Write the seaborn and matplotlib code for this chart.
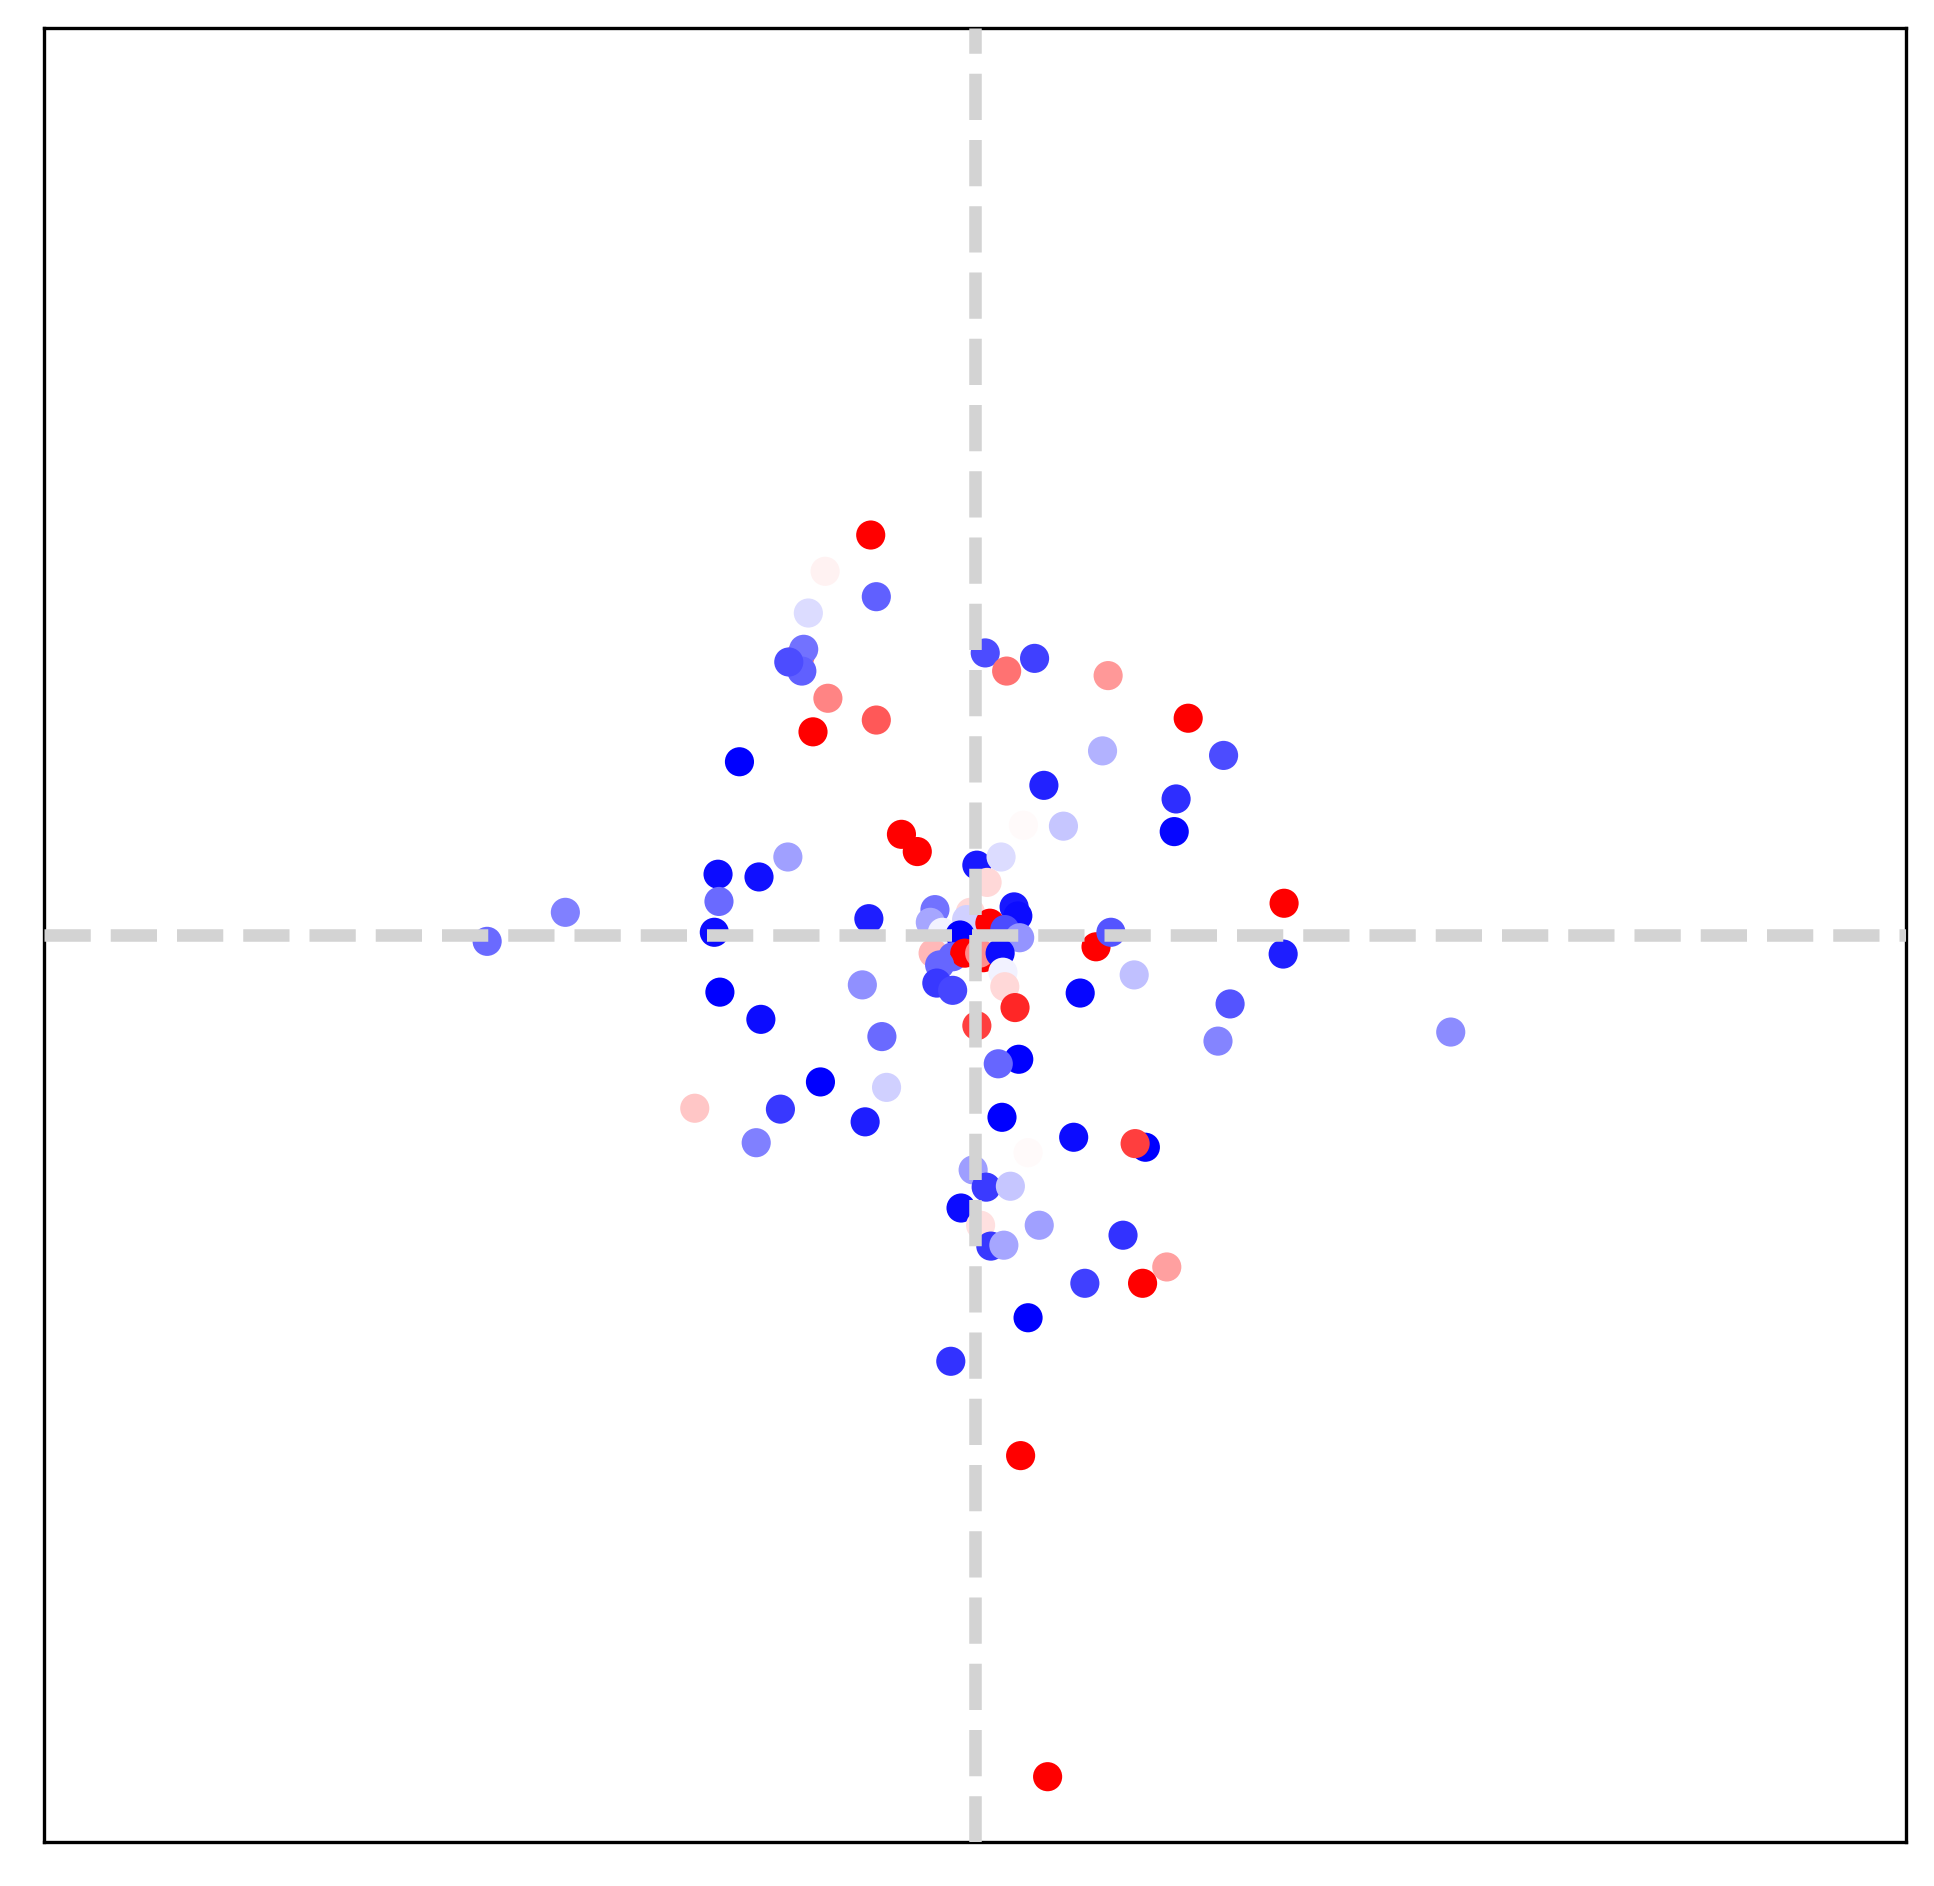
import matplotlib
matplotlib.use("Agg")
import matplotlib.pyplot as plt
import seaborn as sns
import pandas as pd

# Point positions (x, y) and colour score
x = [-1.12, -1.61, -1.06, -1.79, -1.88, -1.84, -1.86, -2.00, -1.58, -1.06,
     -1.74, -2.53, 0.11, 0.34, 0.64, 1.43, 2.29, 1.37, 2.67, 0.74,
     2.16, 0.52, 0.95, 2.14, -0.79, -0.62, 0.02, 0.28, 0.13, 0.42,
     0.46, -2.01, -2.76, -2.32, -2.75, -4.40, -5.24, -2.80, -1.14, -2.74,
     -2.30, -1.21, -1.00, -1.66, -0.95, -3.01, -2.09, -1.18, -2.35, -0.43,
     -0.48, -0.05, -0.09, 0.16, 0.32, 0.48, -0.35, -0.16, -0.45, -0.24,
     -0.11, 0.09, 0.05, 0.27, -0.38, 0.30, -0.41, -0.24, 0.32, 0.43,
     0.02, 1.30, 1.46, 3.32, 3.31, 1.71, 1.13, 2.74, 2.61, 5.11,
     1.06, 1.83, 1.72, 0.47, 0.25, 0.29, 0.57, -0.02, 0.12, 0.38,
     -0.15, 0.06, 0.69, 0.17, 0.31, 1.59, 2.06, 1.18, 1.80, 0.57,
     -0.26, 0.49, 0.78]
y = [4.41, 4.01, 3.73, 3.55, 3.07, 3.15, 2.91, 3.01, 2.61, 2.37,
     2.24, 1.91, 3.11, 2.91, 3.05, 2.86, 2.39, 2.03, 1.98, 1.65,
     1.50, 1.21, 1.20, 1.14, 1.11, 0.92, 0.77, 0.86, 0.58, 0.31,
     0.21, 0.86, 0.67, 0.64, 0.37, 0.25, -0.07, 0.03, 0.18, -0.63,
     -0.93, -0.55, -1.12, -1.62, -1.68, -1.91, -1.92, -2.06, -2.29, 0.28,
     0.14, 0.25, 0.17, 0.13, 0.06, -0.03, 0.03, 0.00, -0.20, -0.24,
     -0.20, -0.25, -0.20, -0.20, -0.33, -0.41, -0.53, -0.61, -0.57, -0.80,
     -1.00, -0.13, 0.03, 0.35, -0.21, -0.44, -0.64, -0.76, -1.17, -1.07,
     -2.23, -2.34, -2.30, -1.37, -1.42, -2.01, -2.40, -2.59, -2.78, -2.77,
     -3.01, -3.20, -3.20, -3.43, -3.42, -3.31, -3.66, -3.84, -3.84, -4.22,
     -4.70, -5.74, -9.28]
score = [1.0, 0.05, -0.62, -0.14, 0.55, -0.55, -0.62, -0.70, 0.48, 0.65,
         1.0, -1.0, -0.70, 0.55, -0.75, 0.40, 1.0, -0.30, -0.70, -0.86,
         -0.82, 0.02, -0.22, -0.97, 1.0, 1.0, -0.90, -0.14, 0.15, -0.90,
         -0.95, -0.37, -0.95, -0.93, -0.58, -0.50, -0.58, -0.95, -0.88, -1.0,
         -0.95, -0.43, -0.58, -1.0, -0.18, 0.22, -0.78, -0.88, -0.50, -0.55,
         -0.35, 0.15, -0.18, 1.0, -0.70, -0.42, -0.05, -1.0, 0.28, -0.60,
         1.0, 1.0, 0.45, -0.95, -0.60, -0.05, -0.78, -0.72, 0.15, 0.85,
         0.75, 1.0, -0.67, 1.0, -0.88, -0.25, -0.97, -0.67, -0.48, -0.45,
         -0.95, -1.0, 0.75, -1.0, -0.60, -1.0, 0.02, -0.38, -0.77, -0.22,
         -0.95, 0.12, -0.37, -0.78, -0.35, -0.80, 0.37, -0.75, 1.0, -1.0,
         -0.80, 1.0, 1.0]

df = pd.DataFrame({"x": x, "y": y, "score": score})

sns.set_style("white")
fig = plt.figure(figsize=(9.67, 9.43), dpi=200)
ax = fig.add_axes([0.02275, 0.02333, 0.96277, 0.96182])

sns.scatterplot(data=df, x="x", y="y", hue="score", palette="bwr",
                hue_norm=(-1, 1), s=110, linewidth=0, legend=False, ax=ax)

# dashed zero lines sit on top of the points
ax.axhline(0, color="lightgray", linestyle="--", linewidth=4.5, zorder=5)
ax.axvline(0, color="lightgray", linestyle="--", linewidth=4.5, zorder=5)

ax.set_xlim(-10, 10)
ax.set_ylim(-10, 10)
ax.set_xticks([])
ax.set_yticks([])
ax.set_xlabel("")
ax.set_ylabel("")
for sp in ax.spines.values():
    sp.set_color("black")
    sp.set_linewidth(1.2)

fig.savefig("out.png", dpi=200)
